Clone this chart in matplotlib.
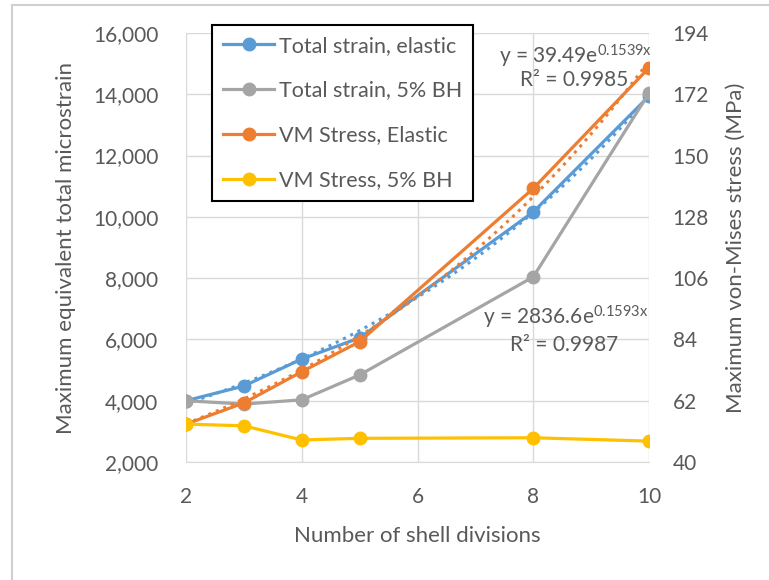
import numpy as np
import matplotlib.pyplot as plt
from matplotlib.patches import Rectangle

plt.rcParams['font.family'] = ['Lato', 'DejaVu Sans']
plt.rcParams['mathtext.default'] = 'regular'

divisions = [2, 3, 4, 5, 8, 10]
strain_elastic = [4000, 4480, 5360, 6050, 10160, 13940]
strain_bh = [4000, 3890, 4030, 4840, 8040, 14040]
stress_elastic = [53.6, 61.2, 72.4, 83.2, 138.2, 181.5]
stress_bh = [53.6, 53.0, 47.9, 48.5, 48.7, 47.5]

# Excel exponential trendlines (coefficients as shown on chart)
strain_fit = (2836.6, 0.1593)
stress_fit = (39.49, 0.1539)

left_ticks = [2000, 4000, 6000, 8000, 10000, 12000, 14000, 16000]
right_ticks = [40, 62, 84, 106, 128, 150, 172, 194]

BLUE = '#5B9BD5'
GRAY = '#A5A5A5'
ORANGE = '#ED7D31'
YELLOW = '#FFC000'
TXT = '#595959'
GRID = '#D9D9D9'

fig = plt.figure(figsize=(7.69, 5.8), dpi=100)
fig.patches.append(Rectangle((12 / 769, -0.1), 1.2, 1.1 - 5 / 580, transform=fig.transFigure,
                             fill=False, edgecolor='#D0D0D0', linewidth=1.5))
ax = fig.add_axes([186 / 769, 1 - 462 / 580, 463 / 769, 429 / 580])
ax2 = ax.twinx()

lw = 2.3
ms = 9
xs = np.linspace(2, 10, 100)
ax.plot(xs, strain_fit[0] * np.exp(strain_fit[1] * xs), ':', color=BLUE, lw=2.2)
l1, = ax.plot(divisions, strain_elastic, '-o', color=BLUE, lw=lw, ms=ms, label='Total strain, elastic')
l2, = ax.plot(divisions, strain_bh, '-o', color=GRAY, lw=lw, ms=ms, label='Total strain, 5% BH')
ax2.plot(xs, stress_fit[0] * np.exp(stress_fit[1] * xs), ':', color=ORANGE, lw=2.2)
l3, = ax2.plot(divisions, stress_elastic, '-o', color=ORANGE, lw=lw, ms=ms, label='VM Stress, Elastic')
l4, = ax2.plot(divisions, stress_bh, '-o', color=YELLOW, lw=lw, ms=ms, label='VM Stress, 5% BH')

ax.set_xlim(2, 10)
ax.set_ylim(2000, 16000)
ax2.set_ylim(40, 194)
ax.set_xticks([2, 4, 6, 8, 10])
ax.set_yticks(left_ticks)
ax.set_yticklabels([f'{v:,}' for v in left_ticks])
ax2.set_yticks(right_ticks)

ax.grid(True, color=GRID, lw=1)
ax.set_axisbelow(True)
for a in (ax, ax2):
    for s in a.spines.values():
        s.set_visible(False)
    a.tick_params(length=0, labelsize=15, colors=TXT)
ax.spines['bottom'].set_visible(True)
ax.spines['bottom'].set_color(GRID)
ax.tick_params(axis='x', pad=18)
ax.tick_params(axis='y', pad=20)
ax2.tick_params(axis='y', pad=17)

ax.set_xlabel('Number of shell divisions', fontsize=16, color=TXT, labelpad=14)
ax.set_ylabel('Maximum equivalent total microstrain', fontsize=16, color=TXT, labelpad=12)
ax2.set_ylabel('Maximum von-Mises stress (MPa)', fontsize=16, color=TXT, labelpad=12)

ax2.text(1.006, 0.946, r'y = 39.49e$^{0.1539x}$', transform=ax.transAxes, ha='right', va='center',
         fontsize=15, color=TXT)
ax2.text(0.955, 0.89, 'R² = 0.9985', transform=ax.transAxes, ha='right', va='center',
         fontsize=15, color=TXT)
ax2.text(0.998, 0.338, r'y = 2836.6e$^{0.1593x}$', transform=ax.transAxes, ha='right', va='center',
         fontsize=15, color=TXT)
ax2.text(0.933, 0.273, 'R² = 0.9987', transform=ax.transAxes, ha='right', va='center',
         fontsize=15, color=TXT)

leg = ax2.legend(handles=[l1, l2, l3, l4], loc='upper left', bbox_to_anchor=(212 / 769, 1 - 25 / 580),
                 bbox_transform=fig.transFigure, fontsize=15.5, frameon=True, fancybox=False,
                 edgecolor='black', framealpha=1, handlelength=2.4, handletextpad=0.2,
                 labelspacing=1.15, borderpad=0.5, borderaxespad=0, labelcolor=TXT)
leg.get_frame().set_linewidth(1.5)

fig.savefig('out.png', dpi=100)
